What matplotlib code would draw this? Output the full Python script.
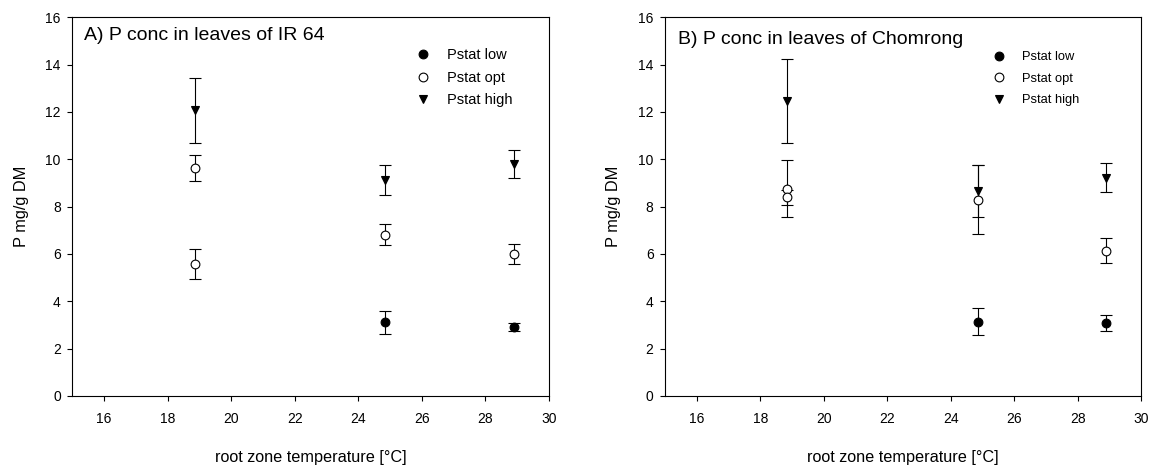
import matplotlib
matplotlib.use("Agg")
import matplotlib.pyplot as plt

plt.rcParams['font.family'] = ['Liberation Sans', 'DejaVu Sans']

# panel A: IR 64
a_low_x = [24.85, 28.9]
a_low_y = [3.12, 2.91]
a_low_err = [0.48, 0.18]
a_opt_x = [18.85, 18.85, 24.85, 28.9]
a_opt_y = [9.62, 5.57, 6.81, 6.01]
a_opt_err = [0.55, 0.62, 0.45, 0.43]
a_high_x = [18.85, 24.85, 28.9]
a_high_y = [12.08, 9.13, 9.79]
a_high_err = [1.37, 0.63, 0.6]

# panel B: Chomrong
b_low_x = [24.85, 28.9]
b_low_y = [3.14, 3.09]
b_low_err = [0.56, 0.35]
b_opt_x = [18.85, 18.85, 24.85, 28.9]
b_opt_y = [8.75, 8.39, 8.3, 6.14]
b_opt_err = [1.2, 0.3, 1.45, 0.54]
b_high_x = [18.85, 24.85, 28.9]
b_high_y = [12.46, 8.65, 9.23]
b_high_err = [1.77, 1.09, 0.63]

labels = ['Pstat low', 'Pstat opt', 'Pstat high']
xticks = [16, 18, 20, 22, 24, 26, 28, 30]
yticks = [0, 2, 4, 6, 8, 10, 12, 14, 16]

fig = plt.figure(figsize=(11.52, 4.65), dpi=100)
ax1 = fig.add_axes([0.0628, 0.1484, 0.4138, 0.8144])
ax2 = fig.add_axes([0.5773, 0.1484, 0.4135, 0.8144])


def panel(ax, series, title, title_pos, leg_anchor, leg_fs, leg_pad, leg_space):
    handles = []
    styles = [('o', 'black'), ('o', 'white'), ('v', 'black')]
    for (x, y, e), (mk, fc) in zip(series, styles):
        eb = ax.errorbar(x, y, yerr=e, fmt=mk, mfc=fc, mec='black', ms=6.3,
                         mew=0.8, ecolor='black', elinewidth=0.8, capsize=4,
                         capthick=0.8, color='black')
        handles.append(eb[0])
    ax.set_xlim(15, 30)
    ax.set_ylim(0, 16)
    ax.set_xticks(xticks)
    ax.set_yticks(yticks)
    ax.tick_params(direction='out', length=3.8, width=0.8, labelsize=10)
    ax.tick_params(axis='x', pad=8)
    ax.tick_params(axis='y', pad=4.5)
    for s in ax.spines.values():
        s.set_linewidth(0.8)
    ax.set_xlabel('root zone temperature [°C]', fontsize=11.7, labelpad=17)
    ax.set_ylabel('P mg/g DM', fontsize=11.8, labelpad=12)
    ax.text(title_pos[0], title_pos[1], title, transform=ax.transAxes,
            fontsize=14, va='baseline', ha='left')
    ax.legend(handles, labels, loc='upper left', bbox_to_anchor=leg_anchor,
              frameon=False, fontsize=leg_fs, handlelength=1.0,
              handletextpad=leg_pad, labelspacing=leg_space, borderpad=0,
              borderaxespad=0)


panel(ax1,
      [(a_low_x, a_low_y, a_low_err), (a_opt_x, a_opt_y, a_opt_err),
       (a_high_x, a_high_y, a_high_err)],
      'A) P conc in leaves of IR 64', (0.025, 0.94), (0.7208, 0.918), 10.5, 1.13, 0.58)
panel(ax2,
      [(b_low_x, b_low_y, b_low_err), (b_opt_x, b_opt_y, b_opt_err),
       (b_high_x, b_high_y, b_high_err)],
      'B) P conc in leaves of Chomrong', (0.028, 0.93), (0.6865, 0.91), 9.3, 1.31, 0.72)

fig.savefig('out.png', dpi=100)
